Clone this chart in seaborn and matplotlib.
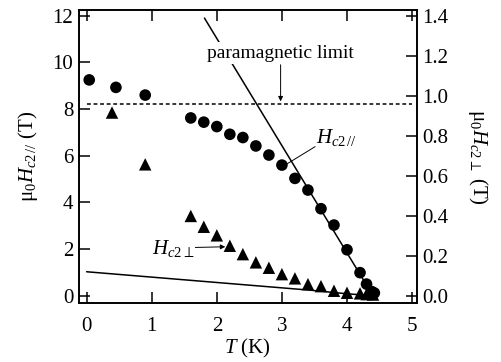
import matplotlib
matplotlib.use("Agg")
import matplotlib.pyplot as plt
import seaborn as sns
import pandas as pd

# ---- data ----
T_par = [0.04, 0.45, 0.90, 1.60, 1.80, 2.00, 2.20, 2.40, 2.60, 2.80, 3.00,
         3.20, 3.40, 3.60, 3.80, 4.00, 4.20, 4.30, 4.38, 4.42]
H_par = [9.25, 8.93, 8.60, 7.62, 7.44, 7.25, 6.92, 6.78, 6.42, 6.03, 5.60,
         5.03, 4.53, 3.73, 3.03, 1.97, 0.99, 0.50, 0.18, 0.12]

T_perp = [0.39, 0.90, 1.60, 1.80, 2.00, 2.20, 2.40, 2.60, 2.80, 3.00, 3.20,
          3.40, 3.60, 3.80, 4.00, 4.20, 4.30, 4.40]
H_perp = [0.916, 0.657, 0.399, 0.345, 0.302, 0.250, 0.208, 0.167, 0.140,
          0.108, 0.087, 0.058, 0.048, 0.025, 0.015, 0.012, 0.008, 0.006]

fit_par_T = [1.81, 4.40]
fit_par_H = [11.9, 0.0]
fit_perp_T = [0.0, 3.43, 4.00, 4.40]
fit_perp_H = [0.120, 0.028, 0.010, 0.0]

para_limit = 8.2

xticks = [0, 1, 2, 3, 4, 5]
yticks_left = [0, 2, 4, 6, 8, 10, 12]
yticks_right = [0.0, 0.2, 0.4, 0.6, 0.8, 1.0, 1.2, 1.4]

# ---- style ----
sns.set_style("ticks")
plt.rcParams['font.family'] = ['Liberation Serif', 'DejaVu Serif']
plt.rcParams['mathtext.fontset'] = 'custom'
plt.rcParams['mathtext.rm'] = 'Liberation Serif'
plt.rcParams['mathtext.it'] = 'Liberation Serif:italic'
plt.rcParams['mathtext.fallback'] = 'stix'
plt.rcParams['text.color'] = 'black'
plt.rcParams['axes.labelcolor'] = 'black'
plt.rcParams['xtick.color'] = 'black'
plt.rcParams['ytick.color'] = 'black'

FS = 15
fig = plt.figure(figsize=(5.02, 3.62), dpi=100)
ax = fig.add_axes([0.157, 0.163, 0.673, 0.809])
ax2 = ax.twinx()

df_par = pd.DataFrame({"T": T_par, "H": H_par})
df_perp = pd.DataFrame({"T": T_perp, "H": H_perp})

sns.scatterplot(data=df_par, x="T", y="H", ax=ax, marker="o", s=70,
                color="black", edgecolor="none", zorder=3)
sns.lineplot(x=fit_par_T, y=fit_par_H, ax=ax, color="black", lw=1.1,
             sort=False, zorder=2)
ax.plot([0, 5], [para_limit, para_limit], ls=(0, (2.5, 1.8)), color="black", lw=1.1)

sns.scatterplot(data=df_perp, x="T", y="H", ax=ax2, marker="^", s=80,
                color="black", edgecolor="none", zorder=3)
sns.lineplot(x=fit_perp_T, y=fit_perp_H, ax=ax2, color="black", lw=1.1,
             sort=False, zorder=2)

ax.set_xlim(-0.12, 5.07)
ax.set_ylim(-0.31, 12.24)
ax2.set_ylim(-0.31 * 1.4 / 12, 12.24 * 1.4 / 12)

ax.set_xticks(xticks)
ax.set_yticks(yticks_left)
ax2.set_yticks(yticks_right)
ax2.set_yticklabels([f"{v:.1f}" for v in yticks_right])

for a in (ax, ax2):
    for s in a.spines.values():
        s.set_linewidth(1.2)
        s.set_color("black")
ax.tick_params(axis="x", direction="in", top=True, length=8, width=1.1,
               labelsize=FS, pad=10, colors="black")
ax.tick_params(axis="y", direction="in", left=True, right=False, length=8,
               width=1.1, labelsize=FS, pad=4, colors="black")
ax2.tick_params(axis="y", direction="in", length=8, width=1.1,
                labelsize=FS, pad=4, colors="black")

ax.set_xlabel("$T$ (K)", fontsize=FS, labelpad=1)
ax.set_ylabel("μ$_0$$H_{c2\\,//}$ (T)", fontsize=FS, labelpad=9)
ax2.set_ylabel("μ$_0$$H_{c2\\perp}$ (T)", fontsize=FS, rotation=270, labelpad=30)

# annotations
ax2.set_zorder(ax.get_zorder() + 1)
ax2.patch.set_visible(False)
ax.text(2.98, 10.4, "paramagnetic limit", fontsize=14, ha="center", va="center",
        bbox=dict(facecolor="white", edgecolor="none", pad=1.5), zorder=4)
ax.annotate("", xy=(2.98, 8.33), xytext=(2.98, 9.9),
            arrowprops=dict(arrowstyle="-|>", color="black", lw=0.7,
                            mutation_scale=7, shrinkA=0, shrinkB=0), zorder=4)
ax.text(3.53, 6.8, "$H_{c2\\,//}$", fontsize=FS, ha="left", va="center", zorder=4)
ax.annotate("", xy=(3.06, 5.62), xytext=(3.51, 6.39),
            arrowprops=dict(arrowstyle="-", color="black", lw=0.7,
                            shrinkA=0, shrinkB=0), zorder=4)
ax.text(1.01, 2.04, "$H_{c2\\perp}$", fontsize=FS, ha="left", va="center", zorder=4)
ax.annotate("", xy=(2.13, 2.1), xytext=(1.67, 2.07),
            arrowprops=dict(arrowstyle="-|>", color="black", lw=0.7,
                            mutation_scale=7, shrinkA=0, shrinkB=0), zorder=4)

fig.savefig("out.png", dpi=100)
